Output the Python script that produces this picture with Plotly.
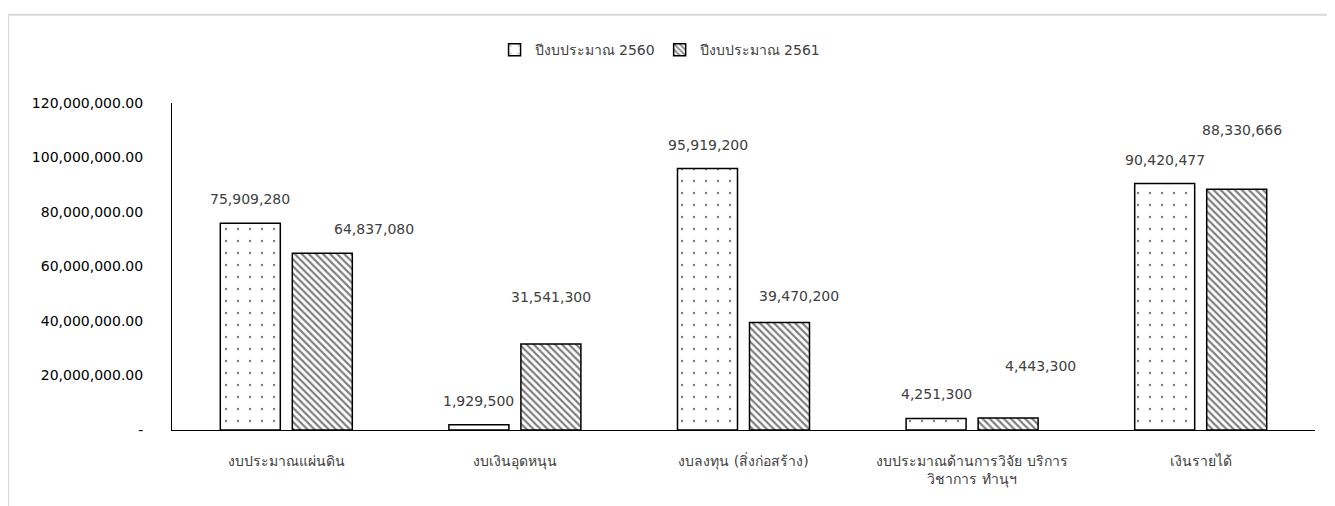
import plotly.graph_objects as go

# ข้อมูลงบประมาณ
categories = ["งบประมาณแผ่นดิน", "งบเงินอุดหนุน", "งบลงทุน (สิ่งก่อสร้าง)",
              "งบประมาณด้านการวิจัย บริการ<br>วิชาการ ทำนุฯ", "เงินรายได้"]
budget_2560 = [75909280, 1929500, 95919200, 4251300, 90420477]
budget_2561 = [64837080, 31541300, 39470200, 4443300, 88330666]
series_names = ["ปีงบประมาณ 2560", "ปีงบประมาณ 2561"]
y_ticks = [0, 20000000, 40000000, 60000000, 80000000, 100000000, 120000000]
y_ticktext = ["-"] + ["{:,.2f}".format(v) for v in y_ticks[1:]]

# label offsets (px) - labels were dragged by hand in the original
shift_2560 = [(0, 14), (0, 14), (0, 14), (0, 14), (0, 14)]
shift_2561 = [(52, 14), (0, 37), (19, 16), (32, 42), (5, 49)]

font = "Tahoma, 'DejaVu Sans', sans-serif"
txt = "#404040"

fig = go.Figure()
fig.add_trace(go.Bar(x=categories, y=budget_2560, name=series_names[0],
                     marker=dict(color="white", line=dict(color="black", width=1.5),
                                 pattern=dict(shape=".", fgcolor="black", bgcolor="white",
                                              size=12, solidity=0.03))))
fig.add_trace(go.Bar(x=categories, y=budget_2561, name=series_names[1],
                     marker=dict(color="white", line=dict(color="black", width=1.5),
                                 pattern=dict(shape="\\", fgcolor="black", bgcolor="white",
                                              size=5, solidity=0.45))))

for i, c in enumerate(categories):
    fig.add_annotation(x=c, y=budget_2560[i], text="{:,}".format(budget_2560[i]),
                       showarrow=False, yanchor="bottom",
                       xshift=-36 + shift_2560[i][0], yshift=shift_2560[i][1],
                       font=dict(size=14, color=txt))
    fig.add_annotation(x=c, y=budget_2561[i], text="{:,}".format(budget_2561[i]),
                       showarrow=False, yanchor="bottom",
                       xshift=36 + shift_2561[i][0], yshift=shift_2561[i][1],
                       font=dict(size=14, color=txt))

# กรอบ chart area สีเทา
fig.add_shape(type="rect", xref="paper", yref="paper",
              x0=-0.1435, x1=1.2, y0=-0.3, y1=1.27,
              line=dict(color="#d9d9d9", width=2), fillcolor="rgba(0,0,0,0)", layer="below")

fig.update_layout(
    width=1327, height=498,
    margin=dict(l=164, r=20, t=95, b=76),
    paper_bgcolor="white", plot_bgcolor="white",
    font=dict(family=font, size=14, color=txt),
    barmode="group", bargap=0.37, bargroupgap=0.167,
    showlegend=True,
    legend=dict(orientation="h", x=0.427, xanchor="center", y=1.162, yanchor="middle",
                font=dict(size=14, color=txt), itemwidth=30, traceorder="normal"),
)
fig.update_yaxes(range=[0, 120000000], tickvals=y_ticks, ticktext=y_ticktext,
                 showgrid=False, zeroline=False, showline=True, linecolor="black",
                 linewidth=1, ticks="", ticklabelstandoff=25,
                 tickfont=dict(size=14, color="black"))
fig.update_xaxes(showgrid=False, showline=True, linecolor="black", linewidth=1,
                 ticks="", ticklabelstandoff=18, tickfont=dict(size=14, color=txt))

fig.write_html("out.html")
